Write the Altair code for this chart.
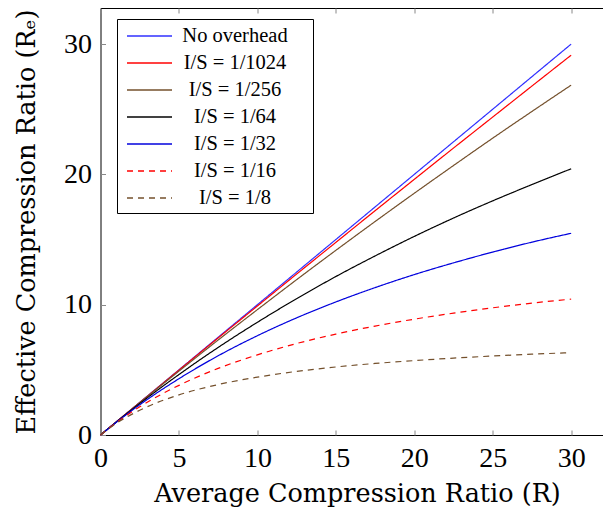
import altair as alt
import pandas as pd

# x positions (average compression ratio R)
R = [0, 1, 2.5, 5, 7.5, 10, 12.5, 15, 17.5, 20, 22.5, 25, 27.5, 30]

# effective compression ratio, one list per series
no_overhead = [0, 1.0, 2.5, 5.0, 7.5, 10.0, 12.5, 15.0, 17.5, 20.0, 22.5, 25.0, 27.5, 30.0]
is_1024 = [0, 1.0, 2.49, 4.98, 7.45, 9.90, 12.35, 14.78, 17.21, 19.62, 22.02, 24.40, 26.78, 29.15]
is_256 = [0, 0.996, 2.48, 4.90, 7.29, 9.62, 11.92, 14.17, 16.38, 18.55, 20.68, 22.78, 24.83, 26.85]
is_64 = [0, 0.985, 2.41, 4.64, 6.72, 8.65, 10.46, 12.16, 13.74, 15.24, 16.65, 17.97, 19.22, 20.43]
is_32 = [0, 0.97, 2.32, 4.32, 6.08, 7.62, 8.99, 10.21, 11.31, 12.31, 13.21, 14.04, 14.80, 15.48]
is_16 = [0, 0.94, 2.16, 3.81, 5.11, 6.15, 7.02, 7.74, 8.36, 8.89, 9.35, 9.76, 10.12, 10.43]
is_8 = [0, 0.89, 1.90, 3.08, 3.87, 4.44, 4.88, 5.22, 5.49, 5.71, 5.90, 6.06, 6.20, 6.32]

names = ["No overhead", "I/S = 1/1024", "I/S = 1/256", "I/S = 1/64",
         "I/S = 1/32", "I/S = 1/16", "I/S = 1/8"]
series = [no_overhead, is_1024, is_256, is_64, is_32, is_16, is_8]
colors = ["#2f2fff", "#ff0000", "#74502c", "#000000", "#0000dd", "#ff0000", "#74502c"]
dashes = [[1, 0], [1, 0], [1, 0], [1, 0], [1, 0], [6, 5], [6, 5]]

x_ticks = [0, 5, 10, 15, 20, 25, 30]
y_ticks = [0, 10, 20, 30]

rows = []
for name, vals in zip(names, series):
    for r, v in zip(R, vals):
        rows.append({"R": r, "Re": v, "series": name})
df = pd.DataFrame(rows)

W, H = 513, 427
TICKF = "Liberation Serif"
TITLEF = "DejaVu Serif"

xscale = alt.Scale(domain=[0, 32.7], nice=False, zero=False)
yscale = alt.Scale(domain=[0, 32.77], nice=False, zero=False)

legend = alt.Legend(
    title="\u00a0", titleOrient="right", titlePadding=21, titleFontSize=10,
    orient="none", legendX=16.5, legendY=11,
    symbolType="M-0.583,0H3.167", symbolSize=576, symbolStrokeWidth=1.3,
    symbolFillColor="transparent",
    labelFont=TICKF, labelFontSize=20.5, labelColor="black",
    labelAlign="center", labelOffset=88,
    strokeColor="black", fillColor="white", padding=4, rowPadding=3,
    cornerRadius=0,
)

color = alt.Color("series:N", scale=alt.Scale(domain=names, range=colors),
                  legend=legend, sort=names)
dash = alt.StrokeDash("series:N", scale=alt.Scale(domain=names, range=dashes),
                      legend=legend, sort=names)

main = alt.Chart(df).mark_line(strokeWidth=1.2, interpolate="monotone").encode(
    x=alt.X("R:Q", scale=xscale, axis=alt.Axis(
        values=x_ticks, ticks=False, domain=False, grid=False, labelFlush=False,
        title="Average Compression Ratio (R)", labelFont=TICKF, labelFontSize=28,
        labelColor="black", labelPadding=9, titleFont=TITLEF, titleFontSize=25.5,
        titleFontWeight="normal", titleColor="black", titlePadding=9)),
    y=alt.Y("Re:Q", scale=yscale, axis=alt.Axis(
        values=y_ticks, ticks=False, domain=False, grid=False, labelFlush=False,
        title="Effective Compression Ratio (Rₑ)", labelFont=TICKF, labelFontSize=28,
        labelColor="black", labelPadding=9, titleFont=TITLEF, titleFontSize=25.5,
        titleFontWeight="normal", titleColor="black", titlePadding=24)),
    color=color,
    strokeDash=dash,
)

tick_style = dict(labels=False, domain=False, grid=False, ticks=True,
                  tickSize=5, tickColor="#888888", tickWidth=1, title=None)

ticks_a = alt.Chart(df).mark_line(opacity=0).encode(
    x=alt.X("R:Q", scale=xscale, axis=alt.Axis(orient="top", offset=-H,
            values=x_ticks, **tick_style)),
    y=alt.Y("Re:Q", scale=yscale, axis=alt.Axis(orient="right", offset=-W,
            values=y_ticks, **tick_style)),
)
ticks_b = alt.Chart(df).mark_line(opacity=0).encode(
    x=alt.X("R:Q", scale=xscale, axis=alt.Axis(orient="bottom", offset=-H,
            values=x_ticks, **tick_style)),
    y=alt.Y("Re:Q", scale=yscale, axis=alt.Axis(orient="left", offset=-W,
            values=y_ticks, **tick_style)),
)

chart = alt.layer(main, ticks_a, ticks_b).resolve_axis(
    x="independent", y="independent"
).properties(
    width=W, height=H,
    autosize=alt.AutoSizeParams(type="none"),
    padding={"left": 92.5, "top": 0, "right": -10.5, "bottom": 72},
).configure_view(stroke="black", strokeWidth=1)

chart.save("out.html", embed_options={"renderer": "svg", "actions": False})
